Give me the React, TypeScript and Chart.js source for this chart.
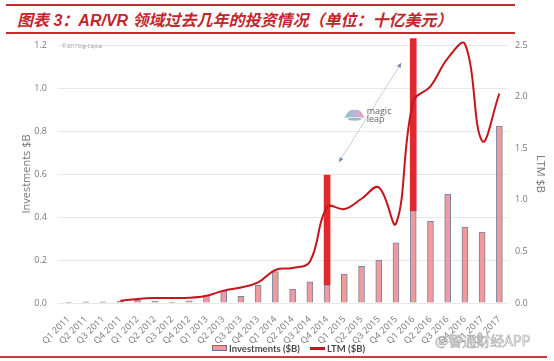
import React, { useEffect, useRef } from "react";
import { Chart, registerables } from "chart.js";
Chart.register(...registerables);

const quarters = [
  "Q1 2011", "Q2 2011", "Q3 2011", "Q4 2011",
  "Q1 2012", "Q2 2012", "Q3 2012", "Q4 2012",
  "Q1 2013", "Q2 2013", "Q3 2013", "Q4 2013",
  "Q1 2014", "Q2 2014", "Q3 2014", "Q4 2014",
  "Q1 2015", "Q2 2015", "Q3 2015", "Q4 2015",
  "Q1 2016", "Q2 2016", "Q3 2016", "Q4 2016",
  "Q1 2017", "Q2 2017",
];
const investments = [
  0.003, 0.005, 0.005, 0.008,
  0.014, 0.009, 0.004, 0.01,
  0.036, 0.056, 0.031, 0.082,
  0.146, 0.065, 0.099, 0.085,
  0.135, 0.17, 0.2, 0.28,
  0.43, 0.38, 0.507, 0.353,
  0.33, 0.823,
];
const magicLeap = [
  null, null, null, null,
  null, null, null, null,
  null, null, null, null,
  null, null, null, 0.51,
  null, null, null, null,
  0.8, null, null, null,
  null, null,
];
const ltm = [
  null, null, null, 0.022,
  0.039, 0.048, 0.048, 0.05,
  0.07, 0.12, 0.15, 0.2,
  0.32, 0.34, 0.4, 0.93,
  0.91, 1.01, 1.12, 0.77,
  1.95, 2.1, 2.37, 2.51,
  1.57, 2.03,
];
const leftMax = 1.2;
const leftStep = 0.2;
const rightMax = 2.5;
const rightStep = 0.5;
const titleText = "图表 3：AR/VR 领域过去几年的投资情况（单位：十亿美元）";
const copyright = "© 2017 Digi-Capital";
const arrowFrom = [15.7, 0.656];
const arrowTo = [19.3, 1.116];
const logoAt = [16.6, 0.874];

const FONT = "'Open Sans', 'DejaVu Sans', sans-serif";

const annotationPlugin = {
  id: "annot",
  afterDraw(chart: any) {
    const { ctx } = chart;
    const x = chart.scales.x;
    const y = chart.scales.y;
    ctx.save();
    ctx.font = "4.5px " + FONT;
    ctx.fillStyle = "#999";
    ctx.textBaseline = "middle";
    ctx.textAlign = "left";
    ctx.fillText(copyright, x.left + 2, y.top + 2);

    const x1 = x.getPixelForValue(arrowFrom[0]);
    const y1 = y.getPixelForValue(arrowFrom[1]);
    const x2 = x.getPixelForValue(arrowTo[0]);
    const y2 = y.getPixelForValue(arrowTo[1]);
    ctx.strokeStyle = "#8fa3bb";
    ctx.lineWidth = 0.9;
    ctx.setLineDash([1.5, 1.2]);
    ctx.beginPath();
    ctx.moveTo(x1, y1);
    ctx.lineTo(x2, y2);
    ctx.stroke();
    ctx.setLineDash([]);
    const ang = Math.atan2(y2 - y1, x2 - x1);
    const head = (px: number, py: number, a: number) => {
      ctx.fillStyle = "#6f87a5";
      ctx.beginPath();
      ctx.moveTo(px, py);
      ctx.lineTo(px - 5 * Math.cos(a - 0.45), py - 5 * Math.sin(a - 0.45));
      ctx.lineTo(px - 5 * Math.cos(a + 0.45), py - 5 * Math.sin(a + 0.45));
      ctx.closePath();
      ctx.fill();
    };
    head(x2, y2, ang);
    head(x1, y1, ang + Math.PI);

    const lx = x.getPixelForValue(logoAt[0]);
    const ly = y.getPixelForValue(logoAt[1]);
    const g = ctx.createLinearGradient(lx - 10, ly, lx + 10, ly);
    g.addColorStop(0, "#7ec8cc");
    g.addColorStop(0.5, "#b9b6d8");
    g.addColorStop(1, "#ee9fb4");
    ctx.fillStyle = g;
    ctx.beginPath();
    ctx.moveTo(lx - 10, ly + 3);
    ctx.quadraticCurveTo(lx - 6, ly - 7, lx, ly - 5);
    ctx.quadraticCurveTo(lx + 6, ly - 7, lx + 10, ly + 3);
    ctx.quadraticCurveTo(lx, ly + 1, lx - 10, ly + 3);
    ctx.fill();
    ctx.fillStyle = "#9fb8c8";
    ctx.beginPath();
    ctx.ellipse(lx, ly + 4, 7, 1.6, 0, 0, Math.PI * 2);
    ctx.fill();
    ctx.fillStyle = "#666";
    ctx.font = "9px " + FONT;
    ctx.textBaseline = "alphabetic";
    ctx.fillText("magic", lx + 12, ly - 1);
    ctx.fillText("leap", lx + 12, ly + 7);
    ctx.restore();
  },
};

export default function App() {
  const ref = useRef<HTMLCanvasElement | null>(null);
  useEffect(() => {
    if (!ref.current) return;
    const chart = new Chart(ref.current, {
      type: "bar",
      data: {
        labels: quarters,
        datasets: [
          {
            type: "line",
            label: "LTM ($B)",
            data: ltm as any,
            yAxisID: "y1",
            borderColor: "#c4161c",
            borderWidth: 2,
            pointRadius: 0,
            tension: 0.4,
            order: 0,
            clip: false as any,
          } as any,
          {
            type: "bar",
            label: "Investments ($B)",
            data: investments,
            yAxisID: "y",
            backgroundColor: "#ef9a9d",
            borderColor: "rgba(80,90,130,0.75)",
            borderWidth: 1,
            barThickness: 6,
            order: 1,
            clip: false as any,
          },
          {
            type: "bar",
            label: "Magic Leap",
            data: magicLeap as any,
            yAxisID: "y",
            backgroundColor: "#e3282b",
            borderWidth: 0,
            barThickness: 6,
            order: 2,
            clip: false as any,
          },
        ],
      },
      options: {
        animation: false,
        responsive: false,
        layout: { padding: { top: 45, left: 0, right: 0, bottom: 0 } },
        plugins: { legend: { display: false }, tooltip: { enabled: false } },
        scales: {
          x: {
            stacked: true,
            grid: { display: false, drawTicks: false },
            border: { display: false },
            ticks: {
              autoSkip: false,
              maxRotation: 45,
              minRotation: 45,
              padding: 11,
              color: "#777",
              font: { family: FONT, size: 9 },
            },
            afterFit: (s: any) => {
              s.height = 58;
            },
          },
          y: {
            stacked: true,
            position: "left",
            min: 0,
            max: leftMax,
            grid: { color: "#e8e8e8", lineWidth: 1, tickLength: 2, drawTicks: true },
            border: { display: false },
            ticks: {
              stepSize: leftStep,
              padding: 11,
              color: "#777",
              font: { family: FONT, size: 9 },
              callback: (v: any) => Number(v).toFixed(1),
            },
            title: {
              display: true,
              text: "Investments $B",
              color: "#777",
              font: { family: FONT, size: 11 },
              padding: { top: 20, bottom: 0 },
            },
            afterFit: (s: any) => {
              s.width = 60;
            },
          },
          y1: {
            position: "right",
            min: 0,
            max: rightMax,
            grid: { display: false, drawOnChartArea: false, drawTicks: false },
            border: { display: false },
            ticks: {
              stepSize: rightStep,
              padding: 7,
              color: "#777",
              font: { family: FONT, size: 9 },
              callback: (v: any) => Number(v).toFixed(1),
            },
            title: {
              display: true,
              text: "LTM $B",
              color: "#777",
              font: { family: FONT, size: 11 },
              padding: { top: 7, bottom: 0 },
            },
            afterFit: (s: any) => {
              s.width = 46;
            },
          },
        },
      } as any,
      plugins: [annotationPlugin],
    });
    return () => chart.destroy();
  }, []);

  return (
    <div
      style={{
        position: "fixed",
        left: 0,
        top: 0,
        width: 554,
        height: 361,
        background: "#fff",
        overflow: "hidden",
      }}
    >
      <div style={{ position: "absolute", left: 6, top: 4, width: 509, height: 2, background: "#c9282d" }} />
      <div
        style={{
          position: "absolute",
          left: 17,
          top: 10,
          height: 22,
          lineHeight: "22px",
          fontSize: 16,
          fontWeight: "bold",
          fontStyle: "italic",
          color: "#c2252b",
          whiteSpace: "pre",
          fontFamily: "'Liberation Sans', 'Noto Sans CJK SC', sans-serif",
        }}
      >
        {titleText}
      </div>
      <div style={{ position: "absolute", left: 6, top: 32, width: 509, height: 1.5, background: "#c9282d" }} />
      <canvas ref={ref} width={554} height={361} style={{ position: "absolute", left: 0, top: 0 }} />
      <div
        style={{
          position: "absolute",
          left: 212,
          top: 341,
          height: 14,
          display: "flex",
          alignItems: "center",
          fontFamily: "Lato, 'Open Sans', sans-serif",
          fontSize: 9.5,
          fontWeight: "bold",
          color: "#4a4a4a",
          whiteSpace: "nowrap",
        }}
      >
        <span style={{ display: "inline-block", width: 13, height: 4, background: "#ef9a9d", border: "1px solid rgba(80,90,130,0.75)", marginRight: 2 }} />
        <span>Investments ($B)</span>
        <span style={{ display: "inline-block", width: 15, height: 3, background: "#c4161c", marginLeft: 10, marginRight: 2 }} />
        <span>LTM ($B)</span>
      </div>
      <div
        style={{
          position: "absolute",
          left: 435,
          top: 331,
          fontSize: 14,
          lineHeight: "18px",
          color: "#f4f4f4",
          WebkitTextStroke: "0.6px #a8a8a8",
          fontFamily: "'Noto Sans CJK SC', sans-serif",
          whiteSpace: "nowrap",
        }}
      >
        @智通财经APP
      </div>
      <div style={{ position: "absolute", left: 0, top: 356, width: 547, height: 1.5, background: "#d0393c" }} />
    </div>
  );
}
